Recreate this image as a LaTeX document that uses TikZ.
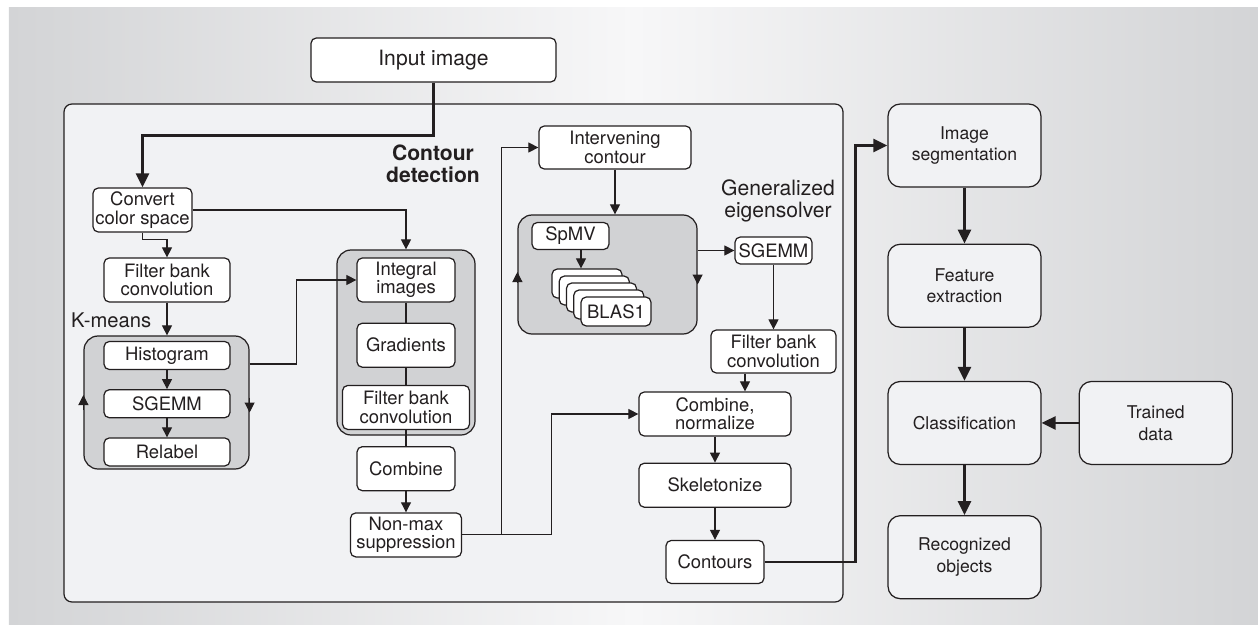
\documentclass[tikz,border=0pt]{standalone}
\usepackage{fontspec}
\setmainfont{TeX Gyre Heros}
\usetikzlibrary{
    arrows.meta,
    positioning,
    calc
}
\definecolor{linecol}{HTML}{231F20}
\definecolor{panelcol}{HTML}{F1F2F4}
\definecolor{groupcol}{HTML}{D1D2D4}
\definecolor{bgside}{HTML}{D3D4D6}
\definecolor{bgmid}{HTML}{F7F7F8}
\tikzset{
    task/.style={
        rectangle, draw=linecol, fill=white,
        rounded corners=3pt, line width=0.7pt,
        minimum height=0.88cm, inner sep=0pt,
        align=center, text=linecol,
        font=\fontsize{10.5}{10.5}\selectfont
    },
    stage/.style={
        task, fill=panelcol, rounded corners=7pt,
        minimum width=3.06cm, minimum height=1.66cm,
        font=\fontsize{10}{12.3}\selectfont
    },
    group/.style={
        rectangle, draw=linecol, fill=groupcol,
        rounded corners=8pt, line width=0.7pt
    },
    caption/.style={
        align=center, text=linecol,
        font=\fontsize{12}{12.5}\selectfont
    },
    link/.style={line width=0.6pt, draw=linecol},
    flow/.style={
        -{Triangle[length=0.2cm, width=0.2cm]}, line width=0.6pt, draw=linecol
    },
    main flow/.style={
        -{Triangle[length=0.28cm, width=0.26cm]}, line width=1.5pt, draw=linecol
    },
}

\begin{document}
\begin{tikzpicture}
    \useasboundingbox (0,0) rectangle (25.16,-12.5);
    \fill[left color=bgside, right color=bgside, middle color=bgmid]
        (0.18,-0.16) rectangle (25.16,-12.5);

    % contour detection panel
    \node[group, fill=panelcol, rounded corners=4.5pt,
          minimum width=15.58cm, minimum height=9.96cm] (panel) at (9.07,-7.06) {};
    \node[task, minimum width=4.9cm, font=\fontsize{12}{12}\selectfont] (input) at (8.67,-1.2) {Input image};
    \node[caption, font=\bfseries\fontsize{12}{12.5}\selectfont] (cdlabel) at (8.66,-3.28) {Contour\\detection};

    % k-means column
    \node[task, minimum width=1.98cm] (convert) at (2.85,-4.2) {Convert\\color space};
    \node[task, minimum width=2.52cm] (fbL) at (3.34,-5.6) {Filter bank\\convolution};
    \node[caption, anchor=west, font=\fontsize{11.5}{12}\selectfont] (kmlabel) at (1.3,-6.4) {K-means};
    \node[group, minimum width=3.3cm, minimum height=2.66cm] (kmeans) at (3.33,-8.05) {};
    \node[task, minimum width=2.52cm, minimum height=0.56cm] (hist) at (3.34,-7.11) {Histogram};
    \node[task, minimum width=2.52cm, minimum height=0.56cm, below=0.38cm of hist] (sgemmA) {SGEMM};
    \node[task, minimum width=2.52cm, minimum height=0.56cm, below=0.38cm of sgemmA] (relabel) {Relabel};

    % local cues column
    \node[group, minimum width=2.76cm, minimum height=3.7cm] (intgroup) at (8.12,-6.85) {};
    \node[task, minimum width=1.96cm] (integral) at (8.12,-5.6) {Integral\\images};
    \node[task, minimum width=1.96cm, below=0.4cm of integral] (gradients) {Gradients};
    \node[task, minimum width=2.54cm, below=0.34cm of gradients] (fbM) {Filter bank\\convolution};
    \node[task, minimum width=1.96cm, below=0.32cm of fbM] (combine) {Combine};
    \node[task, minimum width=2.22cm, below=0.42cm of combine] (nonmax) {Non-max\\suppression};

    % global cues column
    \node[task, minimum width=3.04cm, minimum height=0.86cm] (interv) at (12.3,-2.95) {Intervening\\contour};
    \node[caption] (eiglabel) at (15.56,-4.02) {Generalized\\eigensolver};
    \node[group, minimum width=3.58cm, minimum height=2.38cm] (eigen) at (12.15,-5.49) {};
    \node[task, minimum width=1.54cm, minimum height=0.54cm] (spmv) at (11.41,-4.72) {SpMV};
    \foreach \i in {0,...,3}
        \node[task, minimum width=1.4cm, minimum height=0.58cm] (blas\i) at ({11.74+0.145*\i},{-5.67-0.14*\i}) {};
    \node[task, minimum width=1.4cm, minimum height=0.58cm] (blas) at (12.32,-6.23) {BLAS1};
    \node[task, minimum width=1.54cm, minimum height=0.54cm] (sgemmB) at (15.47,-5.01) {SGEMM};
    \node[task, minimum width=2.5cm, minimum height=0.86cm] (fbR) at (15.47,-7.03) {Filter bank\\convolution};
    \node[task, minimum width=3.04cm] (combnorm) at (14.3,-8.28) {Combine,\\normalize};
    \node[task, minimum width=3.04cm, below=0.52cm of combnorm] (skel) {Skeletonize};
    \node[task, minimum width=1.96cm, minimum height=0.86cm, below=0.64cm of skel] (contours) {Contours};

    % recognition pipeline
    \node[stage] (segm) at (19.29,-2.91) {Image\\segmentation};
    \node[stage, below=1.12cm of segm] (feat) {Feature\\extraction};
    \node[stage, below=1.06cm of feat] (class) {Classification};
    \node[stage, below=1.0cm of class] (recog) {Recognized\\objects};
    \node[stage, right=0.74cm of class] (trained) {Trained\\data};

    % connectors
    \draw[main flow] (input.south) -- ++(0,-1.06) -| (convert.north);
    \draw[flow] (convert.south) -- ++(0,-0.14) -| (fbL.north);
    \draw[flow] (convert.east) -| (intgroup.north);
    \draw[flow] (fbL.south) -- (fbL.south |- kmeans.north);
    \draw[flow] (hist.south) -- (sgemmA.north);
    \draw[flow] (sgemmA.south) -- (relabel.north);
    \draw[flow] ([yshift=-0.15cm]kmeans.west) -- ++(0,0.3);
    \draw[flow] ([yshift=0.1cm]kmeans.east) -- ++(0,-0.3);
    \draw[flow] ([yshift=0.77cm]kmeans.east) -- ++(0.94,0) |- (integral.west);
    \draw[link] (integral.south) -- (gradients.north);
    \draw[link] (gradients.south) -- (fbM.north);
    \draw[link] (fbM.south) -- (combine.north);
    \draw[flow] (combine.south) -- (nonmax.north);
    \draw[flow] (nonmax.east) -- ++(0.78,0) |- (interv.west);
    \draw[flow] (nonmax.east) -- ++(1.78,0) |- (combnorm.west);
    \draw[flow] (interv.south) -- (interv.south |- eigen.north);
    \draw[flow] ([xshift=0.21cm]spmv.south) -- ([xshift=0.21cm]spmv.south |- blas0.north);
    \draw[flow] ([yshift=-0.15cm]eigen.west) -- ++(0,0.2);
    \draw[flow] (eigen.east) -- ++(0,-0.2);
    \draw[flow] (eigen.east |- sgemmB.west) -- (sgemmB.west);
    \draw[flow] (sgemmB.south) -- (fbR.north);
    \draw[flow] ([xshift=-0.57cm]fbR.south) -- ([xshift=-0.57cm]fbR.south |- combnorm.north);
    \draw[flow] (combnorm.south) -- (skel.north);
    \draw[flow] (skel.south) -- (contours.north);
    \draw[main flow] (contours.east) -| ([xshift=-0.64cm]segm.west) -- (segm.west);
    \draw[main flow] (segm) -- (feat);
    \draw[main flow] (feat) -- (class);
    \draw[main flow] (class) -- (recog);
    \draw[main flow] (trained) -- (class);
\end{tikzpicture}
\end{document}
